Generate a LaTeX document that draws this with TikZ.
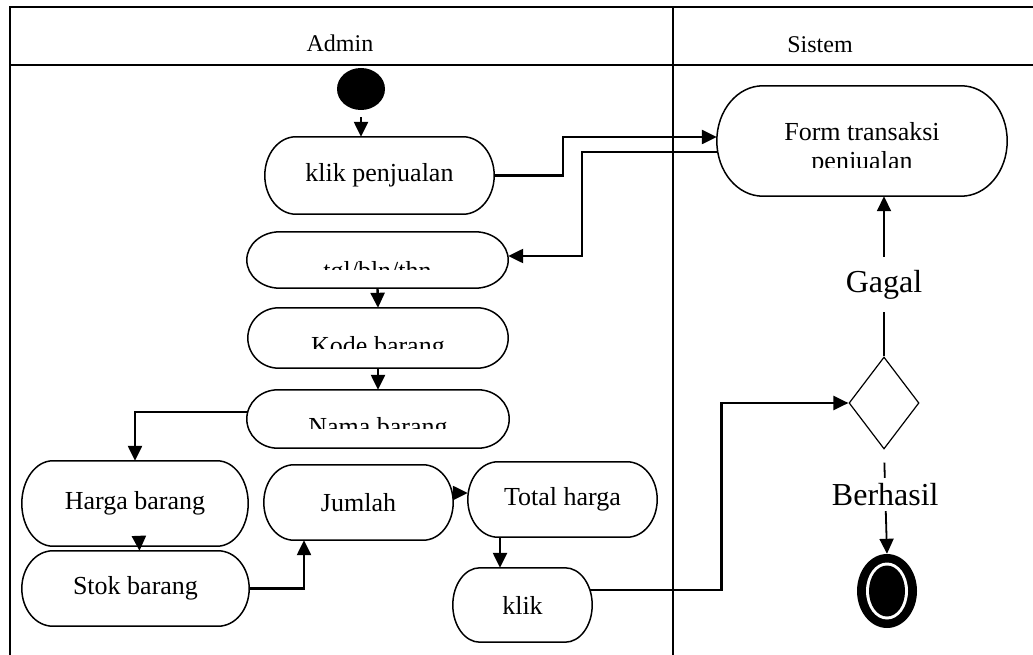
\documentclass[tikz,border=0pt]{standalone}
\usepackage{fontspec}
\setmainfont{Liberation Serif}
\usetikzlibrary{shapes.geometric,arrows.meta,calc}
% outline of an action node: straight top and bottom, half-ellipse ends
\newcommand\pillframe[2]{%
  \draw[line width=1.5pt] let \p1=(#1.north west), \p2=(#1.south east),
    \n1={(\y1-\y2)/2} in
    ({\x1+#2pt},\y1) -- ({\x2-#2pt},\y1)
    arc[start angle=90, end angle=-90, x radius=#2pt, y radius=\n1]
    -- ({\x1+#2pt},\y2)
    arc[start angle=-90, end angle=-270, x radius=#2pt, y radius=\n1]
    -- cycle;}
\begin{document}
\begin{tikzpicture}[x=1pt,y=-1pt,
  act/.style={inner sep=0pt},
  txt/.style={font=\fontsize{26}{29}\selectfont},
  guard/.style={font=\fontsize{32}{36}\selectfont, fill=white, inner xsep=2pt},
  conn/.style={line width=2.4pt},
  arr/.style={conn, -{Triangle[length=15pt,width=14pt]}},
  lane/.style={line width=1.6pt},
  head/.style={font=\fontsize{24}{28}\selectfont},
]
\useasboundingbox (0,0) rectangle (1033,655);

% swimlane frame
\draw[lane] (10,655) -- (10,7) -- (1033,7);
\draw[lane] (10,65) -- (1033,65);
\draw[lane] (673,7) -- (673,655);
\node[head] (admin) at (340,43) {Admin};
\node[head] (sistem) at (820,45) {Sistem};

% start
\node[ellipse, fill=black, minimum width=48, minimum height=42, inner sep=0pt] (start) at (361,89) {};

% activities of the Admin lane
\node[act, txt, minimum width=229, minimum height=77] (klikpj) at (379.5,175.5) {klik penjualan};
\node[act, minimum width=261, minimum height=56] (tgl) at (377.5,260) {};
\node[act, minimum width=260, minimum height=60] (kode) at (378,338) {};
\node[act, minimum width=262, minimum height=58] (nama) at (378,419) {};
\node[act, txt, minimum width=226, minimum height=85] (harga) at (135,503.5) {Harga barang};
\node[act, txt, minimum width=227, minimum height=75] (stok) at (135.5,588.5) {Stok barang};
\node[act, txt, minimum width=189, minimum height=75] (jumlah) at (358.5,502.5) {Jumlah};
\node[act, txt, minimum width=189, minimum height=75] (total) at (562.5,499.5) {Total harga};
\node[act, txt, minimum width=139, minimum height=74] (klik) at (522.5,605) {klik};
\pillframe{klikpj}{31}
\pillframe{tgl}{33}
\pillframe{kode}{31}
\pillframe{nama}{31}
\pillframe{harga}{31}
\pillframe{stok}{31}
\pillframe{jumlah}{30}
\pillframe{total}{30}
\pillframe{klik}{27}

% activities of the Sistem lane
\node[act, minimum width=290, minimum height=110] (form) at (862,141) {};
\pillframe{form}{46}
\node[diamond, draw, line width=1.2pt, fill=white, shape aspect=0.76, minimum width=70, minimum height=92, inner sep=0pt] (dec) at (884,403) {};
\node[ellipse, fill=black, minimum width=60, minimum height=74, inner sep=0pt] (fin) at (887,591) {};
\fill[white] (fin.center) ellipse [x radius=21, y radius=28.5];
\fill[black] (fin.center) ellipse [x radius=18, y radius=25.5];

% labels cut off at the lower edge of their text frames
\begin{scope}
  \clip (250,230) rectangle (505,269);
  \node[txt, anchor=base] (tgltext) at (377.5,279) {tgl/bln/thn};
\end{scope}
\begin{scope}
  \clip (250,310) rectangle (505,348);
  \node[txt, anchor=base] (kodetext) at (378,354) {Kode barang};
\end{scope}
\begin{scope}
  \clip (250,392) rectangle (505,428);
  \node[txt, anchor=base] (namatext) at (378,435) {Nama barang};
\end{scope}
\begin{scope}
  \clip (720,90) rectangle (1005,168);
  \node[txt, anchor=base] (formtext1) at (862,141) {Form transaksi};
  \node[txt, anchor=base] (formtext2) at (862,170) {penjualan};
\end{scope}

% flows
\draw[arr, shorten <=7pt] (start.south) -- (start.south |- klikpj.north);
\draw[arr] (klikpj.east) -| ($(form.west)+(-154,-4)$) -- ($(form.west)+(0,-4)$);
\draw[arr] ($(form.west)+(0,11)$) -| ($(tgl.east)+(74,-4)$) -- ($(tgl.east)+(0,-4)$);
\draw[arr] (tgl.south) -- (kode.north);
\draw[arr] (kode.south) -- (nama.north);
\draw[arr] ($(nama.west)+(1,-7)$) -| (harga.north);
\draw[arr] ($(harga.south)+(4,-8)$) -- ($(stok.north)+(4,0)$);
\draw[arr] (stok.east) -| ($(jumlah.south)+(-54.5,0)$);
\draw[arr] ($(jumlah.east)+(-1,-9.5)$) -- ($(total.west)+(0,-6.5)$);
\draw[arr] ($(total.south)+(-62.5,0)$) -- ($(klik.north)+(-22.5,0)$);
\draw[arr] ($(klik.east)+(-2,-15)$) -| ($(dec.west)+(-127,0)$) -- (dec.west);

% guarded flows out of the decision
\draw[arr, line width=1.8pt] (dec.north) -- (form.south -| dec.north)
  node[guard, pos=0.447, inner ysep=13pt] (gagal) {Gagal};
\draw[arr, line width=1.8pt, shorten <=13pt] (dec.south) -- (fin.north)
  node[guard, pos=0.43, inner ysep=5pt] (berhasil) {Berhasil};
\end{tikzpicture}
\end{document}
